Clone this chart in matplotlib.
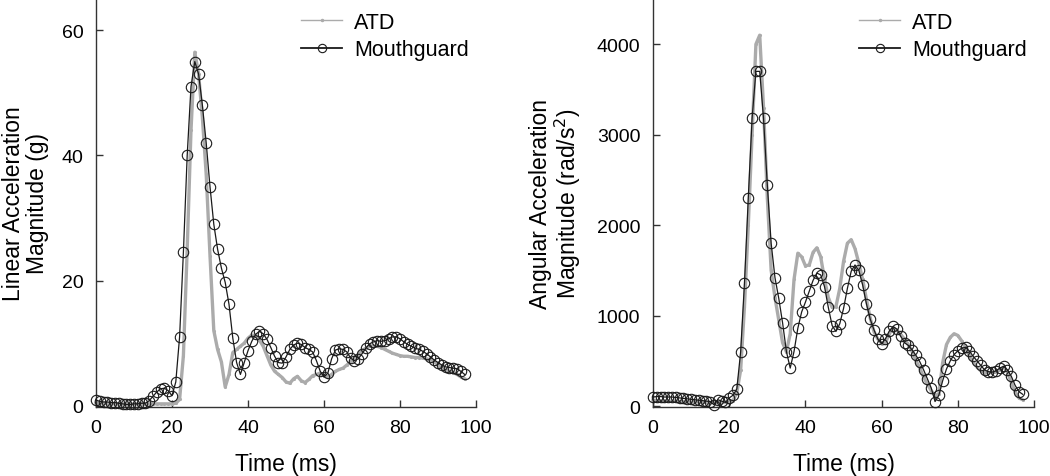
import matplotlib
matplotlib.use("Agg")
import matplotlib.pyplot as plt
from matplotlib.lines import Line2D

plt.rcParams["font.family"] = ["Liberation Sans", "DejaVu Sans"]

# time base, 1 ms steps, 0..97 ms
time_ms = list(range(98))

# linear acceleration magnitude (g)
lin_atd = [0.4, 0.4, 0.4, 0.3, 0.3, 0.3, 0.3, 0.3, 0.3, 0.3,
           0.3, 0.3, 0.3, 0.3, 0.3, 0.3, 0.3, 0.3, 0.3, 0.3,
           0.3, 0.4, 1.0, 8.0, 25.0, 44.0, 56.5, 53.0, 46.0, 37.0,
           24.0, 12.0, 9.0, 7.0, 3.0, 5.0, 8.5, 9.0, 9.5, 10.0,
           10.8, 11.3, 11.2, 10.5, 9.5, 8.0, 6.5, 5.5, 5.0, 4.5,
           3.8, 3.6, 4.3, 4.7, 4.0, 3.7, 4.2, 4.8, 5.0, 5.2,
           4.8, 4.6, 5.0, 5.5, 5.8, 6.0, 6.5, 7.0, 7.5, 8.2,
           8.8, 9.2, 9.5, 9.6, 9.5, 9.3, 9.0, 8.7, 8.4, 8.2,
           8.0, 7.9, 7.9, 7.8, 7.7, 7.7, 7.6, 7.5, 7.3, 7.0,
           6.5, 6.0, 5.7, 5.5, 5.3, 5.0, 4.6, 4.3]
lin_mg = [0.9, 0.7, 0.6, 0.6, 0.5, 0.5, 0.4, 0.3, 0.2, 0.2,
          0.3, 0.3, 0.4, 0.4, 0.8, 1.5, 2.2, 2.7, 2.8, 2.4,
          1.6, 3.8, 11.0, 24.5, 40.0, 51.0, 55.0, 53.0, 48.0, 42.0,
          35.0, 29.0, 25.0, 22.0, 19.7, 16.2, 10.8, 6.9, 5.0, 6.9,
          8.8, 10.3, 11.4, 11.9, 11.5, 10.6, 9.3, 7.9, 6.9, 6.8,
          7.8, 9.0, 9.7, 10.0, 9.8, 9.3, 9.0, 8.6, 7.2, 5.5,
          4.6, 5.2, 7.5, 8.9, 9.1, 9.0, 8.6, 7.6, 7.2, 7.5,
          8.3, 9.2, 9.9, 10.2, 10.4, 10.3, 10.4, 10.7, 11.0, 11.0,
          10.7, 10.2, 9.8, 9.5, 9.2, 9.0, 8.7, 8.3, 7.8, 7.3,
          6.9, 6.5, 6.2, 6.1, 6.0, 5.9, 5.5, 5.0]

# angular acceleration magnitude (rad/s^2)
ang_atd = [60, 60, 58, 56, 55, 54, 52, 50, 50, 48,
           46, 45, 44, 43, 42, 41, 40, 40, 40, 40,
           45, 60, 150, 400, 1100, 2000, 3000, 4000, 4100, 3300,
           2300, 1500, 1200, 950, 700, 600, 800, 1400, 1690, 1650,
           1550, 1560, 1700, 1750, 1650, 1400, 1200, 1090, 1100, 1300,
           1600, 1800, 1840, 1740, 1580, 1400, 1180, 970, 820, 740,
           690, 700, 800, 860, 840, 790, 740, 680, 600, 500,
           420, 320, 240, 170, 120, 130, 480, 680, 760, 800,
           780, 720, 640, 560, 490, 430, 390, 370, 370, 370,
           375, 400, 430, 380, 260, 160, 90, 70]
ang_mg = [100, 105, 105, 100, 100, 100, 95, 90, 85, 80,
          75, 70, 65, 60, 55, 50, 15, 70, 55, 40,
          90, 120, 190, 600, 1360, 2300, 3180, 3700, 3700, 3180,
          2440, 1800, 1420, 1190, 920, 603, 420, 603, 860, 1040,
          1150, 1270, 1390, 1470, 1450, 1320, 1090, 890, 825, 910,
          1080, 1300, 1490, 1560, 1500, 1340, 1130, 960, 840, 740,
          690, 745, 830, 880, 850, 770, 700, 670, 620, 560,
          490, 400, 300, 200, 50, 120, 280, 410, 500, 570,
          610, 640, 650, 610, 550, 500, 450, 400, 380, 375,
          390, 420, 440, 400, 330, 230, 160, 130]

ATD_COLOR = "#ababab"
MG_COLOR = "#1a1a1a"
AX_COLOR = "#333333"

fig = plt.figure(figsize=(10.5, 4.77), dpi=100)
ax1 = fig.add_axes([0.0914, 0.1447, 0.362, 0.8553])
ax2 = fig.add_axes([0.6219, 0.1447, 0.363, 0.8553])

panels = [
    (ax1, lin_atd, lin_mg, (-0.2, 65), [0, 20, 40, 60],
     "Linear Acceleration\nMagnitude (g)", 9),
    (ax2, ang_atd, ang_mg, (-10, 4500), [0, 1000, 2000, 3000, 4000],
     "Angular Acceleration\nMagnitude (rad/s$^2$)", 10),
]

for ax, atd, mg, ylim, yticks, ylabel, ypad in panels:
    ax.plot(time_ms, atd, color=ATD_COLOR, lw=2.4, marker=".", ms=2.5,
            zorder=2, clip_on=False)
    ax.plot(time_ms, mg, color=MG_COLOR, lw=0.9, marker="o", ms=7.5,
            mfc="none", mec=MG_COLOR, mew=0.8, zorder=3, clip_on=False)
    ax.set_xlim(0, 100)
    ax.set_ylim(*ylim)
    ax.set_xticks([0, 20, 40, 60, 80, 100])
    ax.set_yticks(yticks)
    for side in ("top", "right"):
        ax.spines[side].set_visible(False)
    for side in ("left", "bottom"):
        ax.spines[side].set_color(AX_COLOR)
        ax.spines[side].set_linewidth(1.0)
    ax.tick_params(direction="in", length=5, width=1, color=AX_COLOR,
                   labelsize=14, pad=9)
    ax.set_xlabel("Time (ms)", fontsize=16.5, labelpad=11)
    ax.set_ylabel(ylabel, fontsize=16.5, labelpad=ypad, linespacing=1.05)

    handles = [
        Line2D([], [], color=ATD_COLOR, lw=1.0, marker=".", ms=3),
        Line2D([], [], color=MG_COLOR, lw=1.3, marker="o", ms=6,
               mfc="none", mec=MG_COLOR, mew=0.8),
    ]
    ax.legend(handles, ["ATD", "Mouthguard"], loc="upper right",
              frameon=False, fontsize=15.5, handlelength=1.9,
              handletextpad=0.55, labelspacing=0.3, borderaxespad=0.0,
              bbox_to_anchor=(1.003, 0.99))

fig.savefig("out.png", dpi=100)
